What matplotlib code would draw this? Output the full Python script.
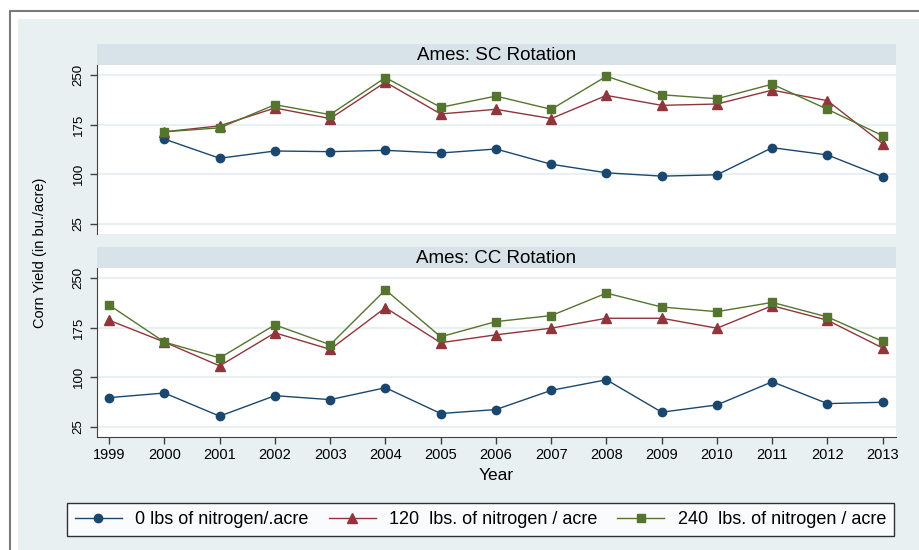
import matplotlib.pyplot as plt
from matplotlib.patches import Rectangle
import numpy as np

# Datos (rendimiento de maiz, bu/acre)
years = list(range(1999, 2014))
year_labels = [str(y) for y in years]
y_ticks = [25, 100, 175, 250]

# Rotacion SC (sin dato en 1999)
sc_0n = [np.nan, 153, 124, 135, 134, 136, 132, 138, 115, 102, 97, 99, 140, 129, 96]
sc_120n = [np.nan, 164, 173, 200, 184, 239, 191, 198, 184, 219, 204, 206, 227, 211, 146]
sc_240n = [np.nan, 164, 170, 205, 190, 246, 201, 218, 198, 248, 220, 214, 236, 198, 158]

# Rotacion CC
cc_0n = [69, 76, 41, 72, 66, 84, 45, 51, 80, 96, 47, 58, 93, 60, 62]
cc_120n = [186, 153, 117, 167, 142, 205, 152, 164, 174, 189, 189, 174, 208, 186, 144]
cc_240n = [209, 153, 129, 179, 149, 232, 161, 184, 193, 227, 206, 199, 213, 191, 154]

panel_titles = ['Ames: SC Rotation', 'Ames: CC Rotation']
series_labels = ['0 lbs of nitrogen/.acre',
                 '120  lbs. of nitrogen / acre',
                 '240  lbs. of nitrogen / acre']

colores = ['#1a476f', '#90353b', '#55752f']
marcadores = ['o', '^', 's']
tamanos = [6, 7, 6]

plt.rcParams['font.family'] = ['Liberation Sans', 'DejaVu Sans']

W, H = 920, 550
fig = plt.figure(figsize=(9.2, 5.5), dpi=100)
fig.patch.set_facecolor('white')


def px_rect(x0, y0, x1, y1):
    # convierte pixeles (origen arriba-izquierda) a fracciones de figura
    return [x0 / W, 1 - y1 / H, (x1 - x0) / W, (y1 - y0) / H]


# Marco exterior gris y fondo celeste (detras de los ejes)
fig.patches.append(Rectangle((10 / W, -0.1), 1.0, 1.1 - 11 / H, transform=fig.transFigure,
                             facecolor='white', edgecolor='#7a7a7a', linewidth=1.5, zorder=-2))
fig.patches.append(Rectangle((18 / W, -0.1), 1.0, 1.1 - 19 / H, transform=fig.transFigure,
                             facecolor='#e8f0f2', edgecolor='none', zorder=-1))

paneles = [
    (panel_titles[0], [sc_0n, sc_120n, sc_240n], 44, 65, 234),
    (panel_titles[1], [cc_0n, cc_120n, cc_240n], 247, 268, 437),
]

ejes = []
for i, (titulo, series, y_strip, y_top, y_bot) in enumerate(paneles):
    # Franja del titulo
    strip = fig.add_axes(px_rect(97, y_strip, 896, y_top))
    strip.set_facecolor('#d8e3e9')
    strip.set_xticks([])
    strip.set_yticks([])
    for s in strip.spines.values():
        s.set_visible(False)
    strip.text(0.5, 0.45, titulo, ha='center', va='center', fontsize=13.5,
               transform=strip.transAxes)

    ax = fig.add_axes(px_rect(97, y_top, 896, y_bot))
    ax.set_facecolor('white')
    for k, valores in enumerate(series):
        ax.plot(years, valores, color=colores[k], marker=marcadores[k],
                markersize=tamanos[k], linewidth=1.0, label=series_labels[k],
                zorder=3)
    ax.set_xlim(1998.78, 2013.24)
    ax.set_ylim(9.5, 265)
    ax.set_yticks(y_ticks)
    ax.set_yticklabels([str(t) for t in y_ticks], rotation=90, va='center')
    ax.grid(True, axis='y', color='#e8f0f2', linewidth=1.5, zorder=0)
    ax.set_axisbelow(True)
    ax.tick_params(axis='y', direction='out', length=5, width=1,
                   color='#404040', pad=4, labelsize=9.5)
    for lado in ['top', 'right']:
        ax.spines[lado].set_visible(False)
    ax.spines['left'].set_color('#404040')
    if i == 0:
        ax.spines['bottom'].set_visible(False)
        ax.set_xticks([])
    else:
        ax.spines['bottom'].set_color('#404040')
        ax.set_xticks(years)
        ax.set_xticklabels(year_labels)
        ax.tick_params(axis='x', direction='out', length=5, width=1,
                       color='#404040', pad=3, labelsize=10.5)
        ax.set_xlabel('Year', fontsize=12.5, labelpad=4)
    ejes.append(ax)

# Etiqueta comun del eje y
fig.text(40 / W, 1 - 253 / H, 'Corn Yield (in bu./acre)', rotation=90,
         ha='center', va='center', fontsize=10.5)

# Leyenda
handles, labels = ejes[1].get_legend_handles_labels()
leg = fig.legend(handles, labels, loc='center', ncol=3,
                 bbox_to_anchor=((66 + 895) / 2 / W, 1 - (502 + 537) / 2 / H),
                 fontsize=13, frameon=True, fancybox=False, edgecolor='black',
                 handlelength=2.6, handletextpad=0.75, columnspacing=1.1,
                 borderpad=0.45, borderaxespad=0, numpoints=1)
leg.get_frame().set_linewidth(1.0)

plt.savefig('out.png', dpi=100)
